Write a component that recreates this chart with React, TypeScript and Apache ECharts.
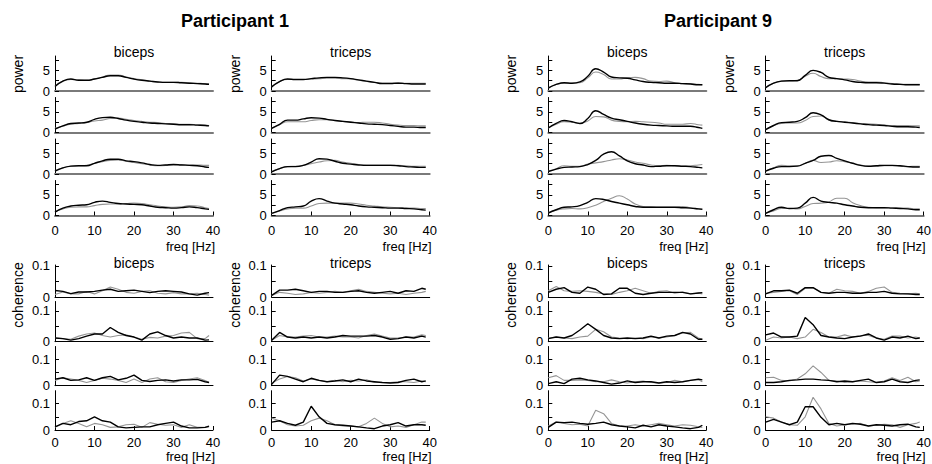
import React, { useEffect, useRef } from "react";
import * as echarts from "echarts";

// frequency samples (Hz)
const FREQS = [0, 2, 4, 6, 8, 10, 12, 14, 16, 18, 20, 22, 24, 26, 28, 30, 32, 34, 36, 38, 39];
const X_TICKS = [0, 10, 20, 30, 40];
const PARTICIPANTS = ["Participant 1", "Participant 9"];
const MUSCLES = ["biceps", "triceps"];

// ---------- POWER (4 rows each) ----------
const P1_BIC_POW_BLACK = [
  [1.1, 2.4, 2.9, 2.6, 2.6, 2.9, 3.3, 3.7, 3.7, 3.3, 2.9, 2.6, 2.4, 2.2, 2.1, 2.1, 2.0, 1.9, 1.8, 1.7, 1.6],
  [0.8, 1.6, 2.2, 2.3, 2.5, 3.2, 3.6, 3.7, 3.4, 3.0, 2.7, 2.5, 2.3, 2.2, 2.1, 2.0, 1.9, 1.9, 1.8, 1.7, 1.6],
  [0.7, 1.5, 1.9, 2.0, 2.0, 2.6, 3.2, 3.6, 3.6, 3.2, 3.0, 2.7, 2.3, 2.1, 2.2, 2.3, 2.2, 2.1, 2.0, 1.7, 1.6],
  [0.8, 1.8, 2.3, 2.5, 2.6, 3.2, 3.5, 3.2, 2.9, 2.8, 2.7, 2.6, 2.3, 2.0, 1.9, 1.8, 1.9, 2.1, 1.9, 1.6, 1.5],
];
const P1_BIC_POW_GRAY = [
  [1.2, 2.4, 2.8, 2.7, 2.6, 2.9, 3.4, 3.9, 3.9, 3.4, 3.0, 2.7, 2.4, 2.2, 2.1, 2.1, 2.1, 2.0, 1.9, 1.8, 1.8],
  [1.0, 1.6, 2.0, 2.2, 2.4, 2.8, 3.0, 3.4, 3.5, 3.2, 2.9, 2.7, 2.5, 2.4, 2.2, 2.1, 2.0, 2.0, 1.9, 1.8, 1.7],
  [0.8, 1.5, 1.9, 2.0, 2.1, 2.6, 3.0, 3.3, 3.4, 3.1, 2.8, 2.5, 2.2, 2.0, 2.1, 2.2, 2.3, 2.2, 2.2, 2.1, 2.1],
  [0.9, 1.6, 2.0, 2.1, 2.1, 2.4, 2.7, 2.8, 2.8, 2.9, 3.0, 2.9, 2.6, 2.3, 2.1, 2.0, 2.1, 2.4, 2.3, 1.9, 1.7],
];
const P1_TRI_POW_BLACK = [
  [1.0, 2.3, 2.9, 2.8, 2.8, 3.0, 3.2, 3.3, 3.3, 3.2, 3.0, 2.7, 2.4, 2.1, 1.8, 1.8, 1.9, 1.8, 1.7, 1.7, 1.7],
  [1.0, 2.0, 3.0, 3.0, 3.3, 3.6, 3.5, 3.2, 2.9, 2.7, 2.5, 2.3, 2.1, 2.0, 1.9, 1.7, 1.5, 1.3, 1.3, 1.2, 1.2],
  [0.5, 1.3, 1.8, 1.8, 2.1, 2.9, 3.7, 3.6, 3.1, 2.6, 2.4, 2.2, 2.1, 2.1, 2.1, 2.1, 2.0, 1.8, 1.7, 1.6, 1.6],
  [0.5, 1.2, 1.9, 2.1, 2.3, 3.5, 4.1, 3.5, 3.0, 2.8, 2.6, 2.3, 2.1, 2.0, 1.9, 1.8, 1.8, 1.7, 1.6, 1.4, 1.3],
];
const P1_TRI_POW_GRAY = [
  [1.1, 2.3, 2.8, 2.8, 2.8, 2.9, 3.0, 3.1, 3.1, 3.0, 2.9, 2.6, 2.3, 2.1, 2.0, 2.0, 2.0, 1.9, 1.9, 1.9, 1.9],
  [1.1, 1.9, 2.6, 2.6, 2.6, 2.9, 3.1, 3.1, 2.9, 2.7, 2.6, 2.4, 2.5, 2.5, 2.3, 2.0, 1.8, 1.7, 1.7, 1.6, 1.6],
  [0.6, 1.3, 1.8, 1.9, 2.1, 2.5, 2.9, 3.2, 3.3, 2.9, 2.6, 2.3, 2.2, 2.2, 2.2, 2.2, 2.1, 2.0, 1.9, 1.9, 1.9],
  [0.5, 1.1, 1.6, 1.8, 1.8, 2.3, 2.9, 3.0, 3.0, 3.0, 3.0, 2.8, 2.5, 2.3, 2.1, 2.0, 1.9, 1.8, 1.8, 1.7, 1.7],
];
const P9_BIC_POW_BLACK = [
  [0.7, 1.6, 2.0, 1.9, 2.2, 3.6, 5.4, 4.6, 3.4, 3.2, 3.1, 2.7, 2.3, 2.1, 2.0, 1.9, 1.9, 1.8, 1.7, 1.5, 1.5],
  [1.1, 2.2, 2.9, 2.6, 2.2, 3.4, 5.3, 4.4, 3.5, 3.1, 2.7, 2.3, 2.0, 1.8, 1.7, 1.6, 1.5, 1.5, 1.5, 1.2, 1.0],
  [0.6, 1.2, 1.6, 1.7, 1.8, 2.3, 3.3, 4.8, 5.4, 4.4, 3.2, 2.5, 2.2, 1.8, 1.9, 2.0, 2.0, 1.9, 1.8, 1.6, 1.5],
  [0.6, 1.4, 2.0, 2.1, 2.4, 3.2, 4.1, 3.9, 3.4, 3.0, 2.6, 2.2, 2.0, 2.0, 2.0, 2.0, 2.0, 1.9, 1.8, 1.6, 1.5],
];
const P9_BIC_POW_GRAY = [
  [0.8, 1.6, 1.9, 1.9, 2.0, 3.2, 4.6, 4.0, 2.9, 2.9, 3.2, 3.3, 3.0, 2.4, 2.3, 2.4, 2.0, 1.8, 1.8, 1.6, 1.5],
  [1.1, 2.0, 2.6, 2.5, 2.2, 2.8, 3.9, 3.8, 3.0, 2.7, 2.6, 2.7, 2.6, 2.5, 2.3, 2.0, 2.0, 2.0, 2.2, 1.9, 1.8],
  [0.7, 1.3, 2.0, 1.9, 1.9, 2.4, 2.7, 3.0, 3.4, 3.7, 3.4, 2.9, 2.6, 2.2, 2.0, 2.1, 2.0, 1.9, 2.0, 2.2, 2.3],
  [0.7, 1.3, 1.6, 1.7, 1.6, 1.9, 2.5, 3.4, 4.2, 4.8, 4.0, 2.8, 2.2, 2.1, 2.0, 2.0, 2.0, 2.2, 1.9, 1.6, 1.6],
];
const P9_TRI_POW_BLACK = [
  [0.8, 1.9, 2.4, 2.5, 2.5, 3.8, 5.0, 4.5, 3.3, 3.0, 2.7, 2.3, 2.1, 2.0, 2.0, 1.9, 1.7, 1.6, 1.5, 1.5, 1.5],
  [0.7, 1.7, 2.4, 2.5, 2.7, 3.6, 4.8, 4.3, 3.1, 2.7, 2.5, 2.3, 2.1, 1.9, 1.8, 1.7, 1.5, 1.4, 1.4, 1.3, 1.2],
  [0.7, 1.4, 1.8, 1.8, 1.9, 2.6, 3.3, 4.3, 4.5, 3.8, 3.2, 2.6, 2.1, 1.9, 2.0, 2.1, 2.1, 2.0, 1.8, 1.7, 1.7],
  [0.5, 1.4, 2.0, 1.7, 1.8, 3.0, 4.4, 3.5, 3.2, 3.0, 2.6, 2.3, 2.0, 1.9, 1.9, 1.9, 1.8, 1.7, 1.6, 1.4, 1.4],
];
const P9_TRI_POW_GRAY = [
  [0.9, 1.9, 2.4, 2.5, 2.6, 3.6, 4.3, 3.5, 3.0, 3.0, 2.9, 2.8, 2.4, 2.2, 2.2, 2.0, 1.8, 1.7, 1.6, 1.6, 1.6],
  [0.8, 1.7, 2.2, 2.3, 2.3, 2.9, 3.9, 4.0, 3.0, 2.7, 2.6, 2.4, 2.2, 2.1, 2.0, 1.8, 1.7, 1.7, 1.7, 1.6, 1.6],
  [0.7, 1.5, 2.1, 2.0, 2.0, 2.6, 3.3, 2.8, 2.9, 3.2, 3.0, 2.6, 2.2, 1.9, 1.9, 2.0, 2.0, 1.9, 1.8, 1.9, 1.9],
  [0.6, 1.1, 1.7, 1.7, 1.6, 2.2, 2.9, 3.0, 3.3, 4.2, 4.2, 3.1, 2.4, 2.0, 1.9, 1.9, 1.9, 1.8, 1.8, 1.6, 1.6],
];

// ---------- COHERENCE (4 rows each) ----------
const P1_BIC_COH_BLACK = [
  [0.021, 0.018, 0.011, 0.016, 0.016, 0.018, 0.022, 0.025, 0.018, 0.02, 0.022, 0.018, 0.014, 0.018, 0.02, 0.018, 0.016, 0.01, 0.006, 0.012, 0.014],
  [0.012, 0.01, 0.005, 0.01, 0.018, 0.025, 0.025, 0.046, 0.03, 0.02, 0.015, 0.005, 0.025, 0.032, 0.02, 0.012, 0.015, 0.012, 0.012, 0.005, 0.006],
  [0.025, 0.03, 0.02, 0.022, 0.03, 0.02, 0.03, 0.035, 0.022, 0.028, 0.04, 0.02, 0.016, 0.02, 0.022, 0.018, 0.022, 0.022, 0.024, 0.015, 0.012],
  [0.012, 0.025, 0.02, 0.032, 0.035, 0.05, 0.035, 0.03, 0.012, 0.008, 0.01, 0.012, 0.012, 0.02, 0.025, 0.03, 0.015, 0.008, 0.008, 0.01, 0.015],
];
const P1_BIC_COH_GRAY = [
  [0.008, 0.016, 0.01, 0.01, 0.018, 0.01, 0.02, 0.032, 0.025, 0.015, 0.012, 0.018, 0.02, 0.012, 0.01, 0.014, 0.01, 0.01, 0.012, 0.008, 0.006],
  [0.012, 0.01, 0.008, 0.018, 0.025, 0.028, 0.02, 0.015, 0.02, 0.022, 0.015, 0.008, 0.014, 0.012, 0.018, 0.02, 0.028, 0.03, 0.01, 0.01, 0.02],
  [0.02, 0.03, 0.025, 0.02, 0.012, 0.02, 0.028, 0.025, 0.02, 0.012, 0.025, 0.012, 0.025, 0.03, 0.015, 0.012, 0.02, 0.025, 0.03, 0.02, 0.012],
  [0.01, 0.025, 0.035, 0.025, 0.012, 0.025, 0.02, 0.01, 0.012, 0.02, 0.022, 0.01, 0.028, 0.022, 0.018, 0.02, 0.01, 0.02, 0.01, 0.01, 0.012],
];
const P1_TRI_COH_BLACK = [
  [0.005, 0.022, 0.022, 0.025, 0.02, 0.015, 0.018, 0.018, 0.015, 0.015, 0.018, 0.02, 0.015, 0.012, 0.015, 0.018, 0.012, 0.02, 0.018, 0.028, 0.025],
  [0.005, 0.03, 0.015, 0.012, 0.015, 0.012, 0.015, 0.012, 0.015, 0.02, 0.018, 0.018, 0.018, 0.02, 0.015, 0.008, 0.01, 0.015, 0.012, 0.018, 0.015],
  [0.005, 0.04, 0.035, 0.025, 0.015, 0.028, 0.02, 0.015, 0.018, 0.022, 0.015, 0.025, 0.018, 0.015, 0.012, 0.01, 0.012, 0.02, 0.025, 0.015, 0.018],
  [0.03, 0.035, 0.025, 0.018, 0.03, 0.09, 0.05, 0.025, 0.02, 0.018, 0.015, 0.012, 0.008, 0.005, 0.015, 0.02, 0.028, 0.015, 0.02, 0.02, 0.018],
];
const P1_TRI_COH_GRAY = [
  [0.005, 0.015, 0.012, 0.008, 0.01, 0.015, 0.012, 0.015, 0.018, 0.015, 0.02, 0.025, 0.018, 0.015, 0.012, 0.01, 0.012, 0.008, 0.012, 0.015, 0.018],
  [0.005, 0.02, 0.015, 0.015, 0.018, 0.02, 0.015, 0.015, 0.018, 0.015, 0.015, 0.012, 0.02, 0.025, 0.018, 0.012, 0.012, 0.015, 0.015, 0.022, 0.02],
  [0.01, 0.025, 0.035, 0.03, 0.018, 0.025, 0.02, 0.015, 0.02, 0.015, 0.02, 0.018, 0.022, 0.012, 0.012, 0.012, 0.015, 0.015, 0.012, 0.018, 0.015],
  [0.045, 0.035, 0.02, 0.015, 0.018, 0.035, 0.045, 0.035, 0.02, 0.015, 0.015, 0.012, 0.025, 0.045, 0.025, 0.012, 0.015, 0.01, 0.02, 0.03, 0.03],
];
const P9_BIC_COH_BLACK = [
  [0.015, 0.025, 0.03, 0.015, 0.012, 0.032, 0.025, 0.008, 0.01, 0.028, 0.028, 0.012, 0.008, 0.012, 0.015, 0.015, 0.015, 0.015, 0.01, 0.013, 0.014],
  [0.01, 0.015, 0.012, 0.02, 0.038, 0.058, 0.04, 0.02, 0.012, 0.01, 0.012, 0.01, 0.012, 0.018, 0.012, 0.018, 0.02, 0.03, 0.025, 0.008, 0.008],
  [0.008, 0.015, 0.008, 0.025, 0.028, 0.022, 0.018, 0.012, 0.006, 0.01, 0.018, 0.012, 0.015, 0.015, 0.01, 0.015, 0.012, 0.015, 0.02, 0.025, 0.022],
  [0.01, 0.03, 0.028, 0.03, 0.025, 0.022, 0.025, 0.03, 0.02, 0.015, 0.012, 0.008, 0.018, 0.012, 0.02, 0.015, 0.012, 0.008, 0.005, 0.01, 0.018],
];
const P9_BIC_COH_GRAY = [
  [0.02, 0.034, 0.02, 0.018, 0.02, 0.018, 0.015, 0.01, 0.008, 0.015, 0.02, 0.028, 0.02, 0.012, 0.018, 0.02, 0.012, 0.016, 0.01, 0.012, 0.01],
  [0.012, 0.015, 0.012, 0.01, 0.015, 0.018, 0.04, 0.032, 0.015, 0.012, 0.01, 0.012, 0.01, 0.015, 0.012, 0.015, 0.02, 0.028, 0.03, 0.012, 0.008],
  [0.03, 0.038, 0.02, 0.02, 0.022, 0.02, 0.015, 0.015, 0.022, 0.015, 0.01, 0.015, 0.018, 0.012, 0.01, 0.012, 0.02, 0.015, 0.02, 0.022, 0.015],
  [0.015, 0.03, 0.025, 0.02, 0.022, 0.015, 0.075, 0.062, 0.025, 0.015, 0.015, 0.02, 0.015, 0.02, 0.025, 0.02, 0.015, 0.02, 0.018, 0.012, 0.01],
];
const P9_TRI_COH_BLACK = [
  [0.01, 0.02, 0.02, 0.022, 0.012, 0.03, 0.03, 0.015, 0.012, 0.015, 0.015, 0.012, 0.012, 0.015, 0.015, 0.018, 0.012, 0.01, 0.01, 0.008, 0.008],
  [0.022, 0.028, 0.015, 0.015, 0.018, 0.078, 0.055, 0.02, 0.015, 0.012, 0.01, 0.015, 0.018, 0.025, 0.012, 0.005, 0.015, 0.012, 0.018, 0.01, 0.012],
  [0.012, 0.012, 0.015, 0.02, 0.022, 0.025, 0.025, 0.022, 0.02, 0.015, 0.018, 0.015, 0.02, 0.025, 0.012, 0.015, 0.025, 0.015, 0.012, 0.02, 0.022],
  [0.03, 0.04, 0.03, 0.02, 0.03, 0.088, 0.088, 0.048, 0.02, 0.025, 0.02, 0.025, 0.022, 0.015, 0.02, 0.018, 0.015, 0.02, 0.022, 0.012, 0.01],
];
const P9_TRI_COH_GRAY = [
  [0.012, 0.015, 0.018, 0.02, 0.008, 0.028, 0.03, 0.015, 0.012, 0.025, 0.02, 0.018, 0.012, 0.018, 0.028, 0.032, 0.015, 0.012, 0.01, 0.012, 0.01],
  [0.005, 0.015, 0.012, 0.015, 0.01, 0.015, 0.04, 0.03, 0.015, 0.015, 0.022, 0.015, 0.02, 0.02, 0.012, 0.008, 0.018, 0.018, 0.012, 0.015, 0.012],
  [0.03, 0.032, 0.02, 0.018, 0.025, 0.045, 0.075, 0.05, 0.02, 0.018, 0.012, 0.015, 0.018, 0.015, 0.012, 0.018, 0.03, 0.02, 0.032, 0.015, 0.018],
  [0.05, 0.045, 0.03, 0.02, 0.018, 0.05, 0.124, 0.08, 0.025, 0.015, 0.02, 0.022, 0.025, 0.015, 0.018, 0.022, 0.02, 0.01, 0.02, 0.025, 0.03],
];

const FONT = '"Liberation Sans", Arial, Helvetica, sans-serif';

const PANELS = [
  { left: 55, muscle: MUSCLES[0], powK: P1_BIC_POW_BLACK, powG: P1_BIC_POW_GRAY, cohK: P1_BIC_COH_BLACK, cohG: P1_BIC_COH_GRAY },
  { left: 271.7, muscle: MUSCLES[1], powK: P1_TRI_POW_BLACK, powG: P1_TRI_POW_GRAY, cohK: P1_TRI_COH_BLACK, cohG: P1_TRI_COH_GRAY },
  { left: 548.3, muscle: MUSCLES[0], powK: P9_BIC_POW_BLACK, powG: P9_BIC_POW_GRAY, cohK: P9_BIC_COH_BLACK, cohG: P9_BIC_COH_GRAY },
  { left: 765.7, muscle: MUSCLES[1], powK: P9_TRI_POW_BLACK, powG: P9_TRI_POW_GRAY, cohK: P9_TRI_COH_BLACK, cohG: P9_TRI_COH_GRAY },
];
const PANEL_W = 158;
const POW_ROWS = [
  { top: 56, bottom: 91, max: 8.5 },
  { top: 97.5, bottom: 132.5, max: 8.5 },
  { top: 139, bottom: 174, max: 8.5 },
  { top: 180.5, bottom: 215.5, max: 8.5 },
];
const COH_ROWS = [
  { top: 265, bottom: 297, max: 0.103 },
  { top: 301.5, bottom: 341.7, max: 0.13 },
  { top: 346.5, bottom: 385.7, max: 0.148 },
  { top: 390.7, bottom: 430, max: 0.149 },
];

function buildOption() {
  const grids: any[] = [];
  const xAxes: any[] = [];
  const yAxes: any[] = [];
  const series: any[] = [];
  const graphic: any[] = [];

  const txt = (x: number, y: number, text: string, size: number, opts: any = {}) => ({
    type: "text",
    x,
    y,
    rotation: opts.rotation || 0,
    style: {
      text,
      fill: "#000",
      font: `${opts.bold ? "bold " : ""}${size}px ${FONT}`,
      align: opts.align || "center",
      verticalAlign: "middle",
      textAlign: opts.align || "center",
      textVerticalAlign: "middle",
    },
  });

  const addGrid = (left: number, row: any, isBottom: boolean, isPower: boolean, black: number[], gray: number[]) => {
    const idx = grids.length;
    grids.push({ left, top: row.top, width: PANEL_W, height: row.bottom - row.top, containLabel: false, outerBoundsMode: "none" });
    xAxes.push({
      gridIndex: idx,
      type: "value",
      min: X_TICKS[0],
      max: X_TICKS[X_TICKS.length - 1],
      interval: 10,
      axisLine: { show: true, onZero: false, lineStyle: isPower ? { color: "#7a7a7a", width: 2 } : { color: "#000", width: 1 } },
      axisTick: { show: isBottom, inside: true, length: 4, lineStyle: { color: "#000", width: 1 } },
      axisLabel: { show: isBottom, margin: isPower ? 8 : 6, fontSize: 13, color: "#000", fontFamily: FONT },
      splitLine: { show: false },
    });
    const interval = isPower ? 2.5 : 0.05;
    yAxes.push({
      gridIndex: idx,
      type: "value",
      min: 0,
      max: row.max,
      interval,
      axisLine: { show: true, onZero: false, lineStyle: { color: "#000", width: 1 } },
      axisTick: { show: true, inside: true, length: 4, lineStyle: { color: "#000", width: 1 } },
      axisLabel: {
        margin: 5,
        fontSize: 13,
        color: "#000",
        fontFamily: FONT,
        showMaxLabel: false,
        formatter: (v: number) => {
          if (Math.abs(v) < 1e-9) return "0";
          if (isPower && Math.abs(v - 5) < 1e-9) return "5";
          if (!isPower && Math.abs(v - 0.1) < 1e-9) return "0.1";
          return "";
        },
      },
      splitLine: { show: false },
    });
    const mk = (vals: number[]) => FREQS.map((f, i) => [f, vals[i]]);
    series.push({
      type: "line",
      xAxisIndex: idx,
      yAxisIndex: idx,
      data: mk(gray),
      showSymbol: false,
      symbol: "none",
      smooth: isPower ? 0.5 : false,
      lineStyle: { color: "#959595", width: 1.1 },
      silent: true,
    });
    series.push({
      type: "line",
      xAxisIndex: idx,
      yAxisIndex: idx,
      data: mk(black),
      showSymbol: false,
      symbol: "none",
      smooth: isPower ? 0.5 : false,
      lineStyle: { color: "#000", width: 1.4 },
      silent: true,
    });
  };

  PANELS.forEach((p) => {
    POW_ROWS.forEach((row, r) => addGrid(p.left, row, r === 3, true, p.powK[r], p.powG[r]));
    COH_ROWS.forEach((row, r) => addGrid(p.left, row, r === 3, false, p.cohK[r], p.cohG[r]));
    const cx = p.left + PANEL_W / 2;
    graphic.push(txt(cx, 52, p.muscle, 14));
    graphic.push(txt(cx, 262.5, p.muscle, 14));
    graphic.push(txt(p.left - 37, 74, "power", 14, { rotation: Math.PI / 2 }));
    graphic.push(txt(p.left - 37, 295, "coherence", 14, { rotation: Math.PI / 2 }));
    graphic.push(txt(p.left + 160, 246, "freq [Hz]", 13, { align: "right" }));
    graphic.push(txt(p.left + 160, 456, "freq [Hz]", 13, { align: "right" }));
  });
  graphic.push(txt(235, 21, PARTICIPANTS[0], 18, { bold: true }));
  graphic.push(txt(718, 21, PARTICIPANTS[1], 18, { bold: true }));

  return {
    animation: false,
    backgroundColor: "#fff",
    grid: grids,
    xAxis: xAxes,
    yAxis: yAxes,
    series,
    graphic,
  };
}

export default function App() {
  const ref = useRef<HTMLDivElement>(null);
  useEffect(() => {
    if (!ref.current) return;
    const chart = echarts.init(ref.current, undefined, { renderer: "svg" });
    chart.setOption(buildOption() as any);
    return () => chart.dispose();
  }, []);
  return <div ref={ref} style={{ position: "fixed", left: 0, top: 0, width: 932, height: 464 }} />;
}
